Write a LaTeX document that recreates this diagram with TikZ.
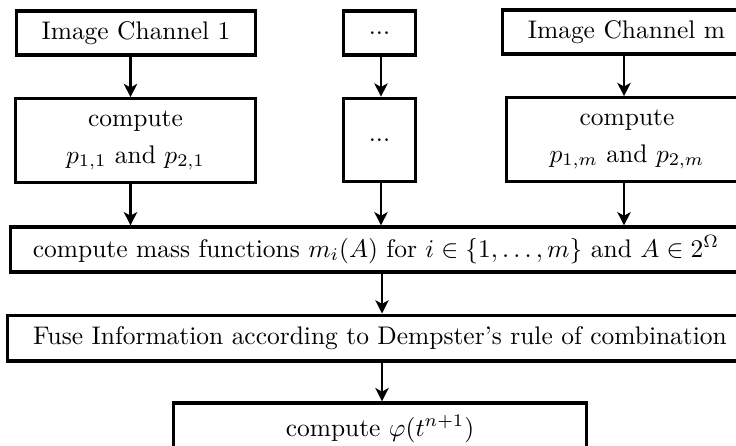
\documentclass[tikz,border=0pt]{standalone}
\usetikzlibrary{arrows.meta}
\begin{document}
\begin{tikzpicture}[x=0.3929pt,y=-0.3929pt,
  box/.style={draw,line width=1.25pt,inner xsep=10pt,inner ysep=0pt,
    minimum height=17.3pt,align=center},
  tallbox/.style={box,minimum height=32.8pt},
  arr/.style={line width=1.05pt,-{Stealth[length=5.2pt,width=5.2pt,inset=1.4pt]}}]
\useasboundingbox (0,0) rectangle (736,445);
\clip (0,0) rectangle (736,445);

% column positions of the vertical connectors
\coordinate (k1) at (130.5,0);
\coordinate (k2) at (381,0);
\coordinate (k3) at (624,0);
\coordinate (k4) at (382,0);

% channel inputs
\node[box] (c1) at (136,33) {Image Channel 1};
\node[box] (d1) at (379.5,33) {\raisebox{-1.2pt}{...}};
\node[box] (cm) at (626.5,32) {Image Channel m};

% per-channel probabilities
\node[tallbox,minimum width=94.5pt] (p1) at (135.5,140.5)
  {compute\\[2.4pt] $p_{1,1}$ and $p_{2,1}$};
\node[tallbox] (d2) at (379.5,140) {...};
\node[tallbox,minimum width=94.5pt] (pm) at (627,139.5)
  {compute\\[2.4pt] $p_{1,m}$ and $p_{2,m}$};

% combination stages
\node[box,inner xsep=0pt,minimum width=287pt,minimum height=17.7pt] (mass) at (376,249.5)
  {compute mass functions $m_i(A)$ for $i\in\{1,\dots,m\}$ and $A\in 2^{\Omega}$};
\node[box,inner xsep=0pt,minimum width=293pt,minimum height=18pt] (fuse) at (380,338)
  {Fuse Information according to Dempster's rule of combination};
\node[box,inner xsep=0pt,minimum width=162pt,minimum height=20.5pt] (phi) at (380,429)
  {compute $\varphi(t^{n+1})$};

% connectors
\draw[arr] (c1.south -| k1) -- (p1.north -| k1);
\draw[arr] (d1.south -| k2) -- (d2.north -| k2);
\draw[arr] (cm.south -| k3) -- (pm.north -| k3);
\draw[arr] (p1.south -| k1) -- (mass.north -| k1);
\draw[arr] (d2.south -| k2) -- (mass.north -| k2);
\draw[arr] (pm.south -| k3) -- (mass.north -| k3);
\draw[arr] (mass.south -| k4) -- (fuse.north -| k4);
\draw[arr] (fuse.south -| k4) -- (phi.north -| k4);
\end{tikzpicture}
\end{document}
